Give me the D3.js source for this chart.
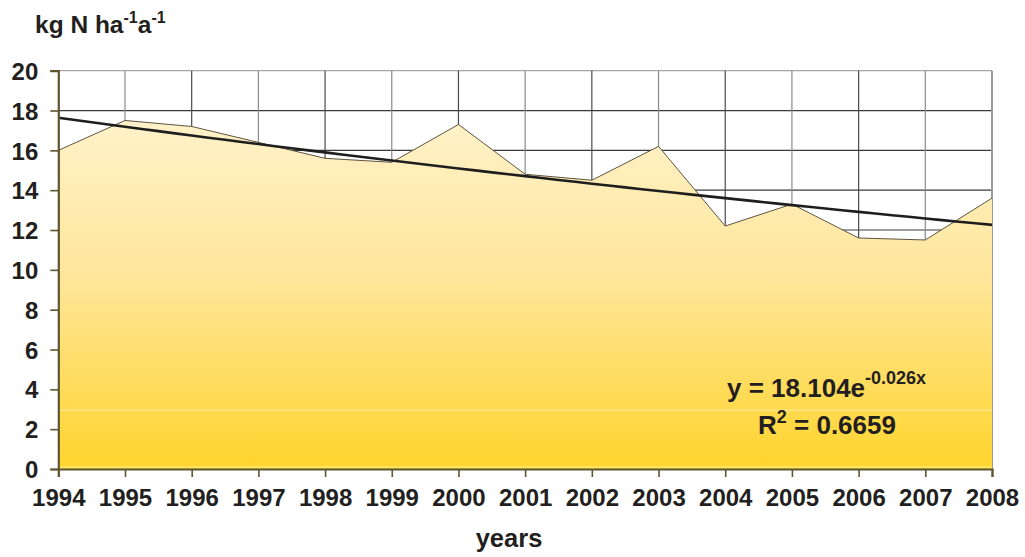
<!DOCTYPE html>
<html>
<head>
<meta charset="utf-8">
<script src="https://cdn.jsdelivr.net/npm/d3@7"></script>
<style>
  html, body { margin: 0; padding: 0; background: #fff; }
  svg { display: block; }
  text { font-family: "Liberation Sans", Arial, sans-serif; font-weight: bold; fill: #231f20; }
</style>
</head>
<body>
<svg id="chart" width="1025" height="557"></svg>
<script>
// Annual nitrogen deposition, kg N per hectare per year
const years = [1994, 1995, 1996, 1997, 1998, 1999, 2000, 2001, 2002, 2003, 2004, 2005, 2006, 2007, 2008];
const deposition = [16.0, 17.5, 17.2, 16.4, 15.6, 15.4, 17.3, 14.8, 14.5, 16.2, 12.2, 13.3, 11.6, 11.5, 13.6];
const yTicks = [0, 2, 4, 6, 8, 10, 12, 14, 16, 18, 20];
// Exponential trend fitted on the series index x = 1..15
const trendA = [18.104];
const trendB = [-0.026];
const trendR2 = [0.6659];

const svg = d3.select("#chart");
const plotLeft = 58.3, plotRight = 992, plotTop = 70.7, plotBottom = 469;

const x = d3.scaleLinear().domain([1994, 2008]).range([plotLeft, plotRight]);
const y = d3.scaleLinear().domain([0, 20]).range([plotBottom, plotTop]);

// gradient for the area fill
const defs = svg.append("defs");
const grad = defs.append("linearGradient").attr("id", "fillGrad")
  .attr("gradientUnits", "userSpaceOnUse")
  .attr("x1", 0).attr("x2", 0).attr("y1", y(17.5)).attr("y2", y(0));
grad.append("stop").attr("offset", "0%").attr("stop-color", "#fff2c9");
grad.append("stop").attr("offset", "45%").attr("stop-color", "#ffe69a");
grad.append("stop").attr("offset", "100%").attr("stop-color", "#ffd42c");

// horizontal grid
svg.append("g").selectAll("line").data(yTicks.filter(d => d > 0)).join("line")
  .attr("x1", plotLeft).attr("x2", plotRight)
  .attr("y1", d => y(d)).attr("y2", d => y(d))
  .attr("stroke", d => d === 20 ? "#a6a6a6" : "#3a3a3a").attr("stroke-width", 1.2);

// vertical grid
svg.append("g").selectAll("line").data(years.slice(1, -1)).join("line")
  .attr("x1", d => x(d)).attr("x2", d => x(d))
  .attr("y1", plotTop).attr("y2", plotBottom)
  .attr("stroke", (d, i) => i % 2 === 0 ? "#8a8a8a" : "#4a4a4a").attr("stroke-width", 1.2);

// right border
svg.append("line").attr("x1", plotRight).attr("x2", plotRight).attr("y1", plotTop).attr("y2", plotBottom)
  .attr("stroke", "#9a9a9a").attr("stroke-width", 2);

const pts = years.map((yr, i) => [yr, deposition[i]]);

// filled area
svg.append("path").datum(pts)
  .attr("d", d3.area().x(d => x(d[0])).y0(y(0)).y1(d => y(d[1])))
  .attr("fill", "url(#fillGrad)");

// light band across the lower fill
svg.append("line").attr("x1", plotLeft).attr("x2", plotRight).attr("y1", y(2.95)).attr("y2", y(2.95))
  .attr("stroke", "#ffe58a").attr("stroke-width", 1.5);
// light bottom edge of the fill
svg.append("line").attr("x1", plotLeft).attr("x2", plotRight).attr("y1", plotBottom - 2).attr("y2", plotBottom - 2)
  .attr("stroke", "#fff1a0").attr("stroke-width", 1.2);

// outline of the series
svg.append("path").datum(pts)
  .attr("d", d3.line().x(d => x(d[0])).y(d => y(d[1])))
  .attr("fill", "none").attr("stroke", "#5e5440").attr("stroke-width", 1);

// exponential trend line
const trendPts = d3.range(1, 15.01, 0.25).map(k => [1993 + k, trendA[0] * Math.exp(trendB[0] * k)]);
svg.append("path").datum(trendPts)
  .attr("d", d3.line().x(d => x(d[0])).y(d => y(d[1])))
  .attr("fill", "none").attr("stroke", "#1e1e1e").attr("stroke-width", 2.6);

// axes
const axisColor = "#5f5430";
const yAxis = svg.append("g").attr("transform", `translate(${plotLeft},0)`)
  .call(d3.axisLeft(y).tickValues(yTicks).tickSize(8).tickPadding(12).tickFormat(d3.format("d")));
const xAxis = svg.append("g").attr("transform", `translate(0,${plotBottom})`)
  .call(d3.axisBottom(x).tickValues(years).tickSize(8).tickPadding(12).tickFormat(d3.format("d")));
[yAxis, xAxis].forEach(g => {
  g.select(".domain").attr("stroke", axisColor).attr("stroke-width", 2.2);
  g.selectAll(".tick line").attr("stroke", axisColor).attr("stroke-width", 1.6);
  g.selectAll(".tick text").attr("font-size", 24).attr("font-family", "Liberation Sans, Arial, sans-serif")
    .attr("font-weight", "bold").attr("fill", "#231f20");
});
yAxis.selectAll(".tick text").attr("dy", "0.36em");
xAxis.selectAll(".tick text").attr("y", 37).attr("dy", 0);

// axis titles
const title = svg.append("text").attr("x", 35).attr("y", 33).attr("font-size", 24.5);
title.append("tspan").text("kg N ha");
title.append("tspan").attr("font-size", 16).attr("dy", -10).text("-1");
title.append("tspan").attr("dy", 10).text("a");
title.append("tspan").attr("font-size", 16).attr("dy", -10).text("-1");

svg.append("text").attr("x", 509).attr("y", 547).attr("text-anchor", "middle")
  .attr("font-size", 25.5).text("years");

// trend equation
const eq = svg.append("text").attr("x", 727).attr("y", 397).attr("font-size", 26);
eq.append("tspan").text(`y = ${trendA[0]}e`);
eq.append("tspan").attr("font-size", 18).attr("dy", -13).text(`${trendB[0]}x`);
const r2 = svg.append("text").attr("x", 758).attr("y", 434).attr("font-size", 26);
r2.append("tspan").text("R");
r2.append("tspan").attr("font-size", 18).attr("dy", -11).text("2");
r2.append("tspan").attr("dy", 11).text(` = ${trendR2[0]}`);
</script>
</body>
</html>
